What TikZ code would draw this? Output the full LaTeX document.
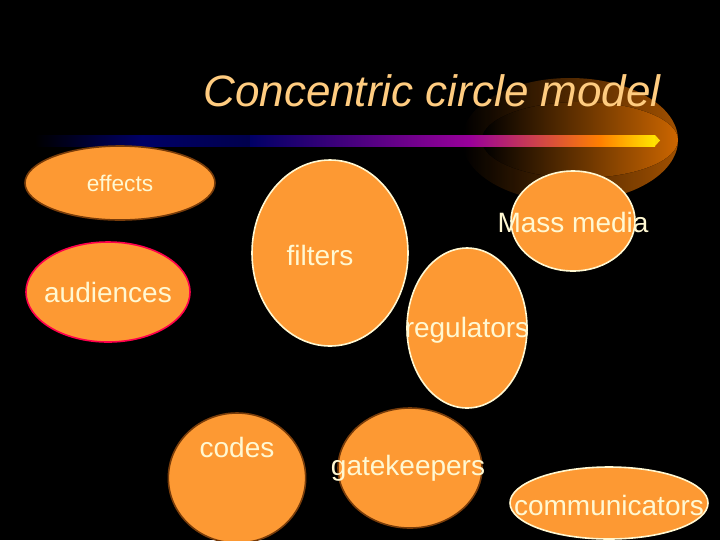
\documentclass[tikz,border=0pt]{standalone}
\usepackage{fontspec}
\setmainfont{Liberation Sans}
\usetikzlibrary{shapes.geometric}
\begin{document}
\begin{tikzpicture}[x=0.75pt,y=-0.75pt,
  blob/.style={ellipse, fill=orf, draw=cream, line width=1.2pt, inner sep=0pt},
  lbl/.style={text=cream, font=\fontsize{21}{24}\selectfont},
  ]
\definecolor{orf}{RGB}{253,153,51}
\definecolor{cream}{RGB}{255,248,210}
\definecolor{brn}{RGB}{120,60,10}
\definecolor{titc}{RGB}{255,204,128}
\fill[black] (0,0) rectangle (720,540);
\useasboundingbox (0,0) rectangle (720,540);
% glow
\begin{scope}
\clip (445,60) rectangle (720,220);
\fill[left color=black, right color=orange!70!black, opacity=0.9] (570,140) ellipse (108 and 62);
\fill[left color=black, right color=orange!80!black] (580,140) ellipse (98 and 38);
\end{scope}
% bar
\shade[left color=black, right color=blue!30!black, middle color=blue!40!black] (35,135) rectangle (250,146);
\shade[left color=blue!40!black, right color=magenta!60!black] (250,135) rectangle (470,146);
\shade[left color=magenta!60!black, right color=orange] (470,135) rectangle (600,146);
\shade[left color=orange, right color=yellow!80!orange] (600,135) rectangle (655,146);
\fill[yellow!80!orange] (655,135) -- (660,140.5) -- (655,146) -- cycle;
\node[text=titc, font=\fontsize{33}{38}\selectfont\itshape] (title) at (432,91) {Concentric circle model};
% shapes (sizes in pt = px*0.75)
\node[blob, draw=brn, minimum width=142.5pt, minimum height=55.5pt] (eff) at (120,183) {};
\node[blob, minimum width=117pt, minimum height=139.5pt] (fil) at (330,253) {};
\node[blob, minimum width=93pt, minimum height=75pt] (mm) at (573,221) {};
\node[blob, draw=red!70!magenta, minimum width=123pt, minimum height=75pt] (aud) at (108,292) {};
\node[blob, minimum width=90pt, minimum height=120pt] (reg) at (467,328) {};
\node[blob, draw=brn, minimum width=103pt, minimum height=97.5pt] (cod) at (237,478) {};
\node[blob, draw=brn, minimum width=108pt, minimum height=90pt] (gat) at (410,468) {};
\node[blob, minimum width=148.5pt, minimum height=54pt] (com) at (609,503) {};
% labels
\node[lbl, font=\fontsize{17}{20}\selectfont] (teff) at (120,183) {effects};
\node[lbl] (tfil) at (320,255) {filters};
\node[lbl] (tmm) at (573,222) {Mass media};
\node[lbl] (taud) at (108,292) {audiences};
\node[lbl] (treg) at (467,330) {regulators};
\node[lbl] (tcod) at (237,447) {codes};
\node[lbl] (tgat) at (408,468) {gatekeepers};
\node[lbl] (tcom) at (609,505) {communicators};
\end{tikzpicture}
\end{document}
